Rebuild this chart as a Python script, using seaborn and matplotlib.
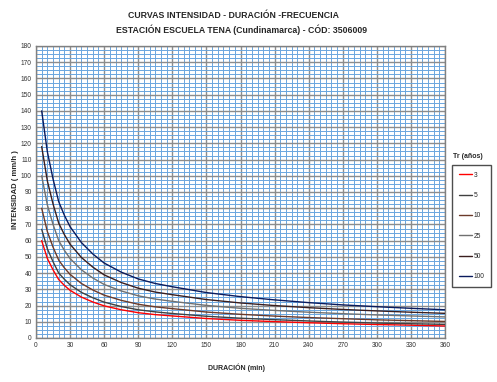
import numpy as np
import pandas as pd
import matplotlib
matplotlib.use("Agg")
import matplotlib.pyplot as plt
import seaborn as sns
from matplotlib.ticker import MultipleLocator

durations = [5, 10, 15, 20, 25, 30, 40, 50, 60, 75, 90, 105, 120, 150, 180, 210, 240, 270, 300, 330, 360]
tr_3 = [60, 49, 42, 36, 32.4, 29.4, 25.2, 22.2, 19.8, 17.4, 15.6, 14.4, 13.6, 12.0, 10.9, 10.1, 9.4, 8.8, 8.3, 7.9, 7.4]
tr_5 = [67, 55, 47, 40, 36.2, 32.8, 28.1, 24.8, 22.1, 19.4, 17.4, 16.1, 15.1, 13.4, 12.2, 11.3, 10.5, 9.8, 9.2, 8.8, 8.4]
tr_10 = [80, 65.6, 56, 48, 43.2, 39.2, 33.6, 29.6, 26.4, 23.2, 20.8, 19.2, 18.1, 16.0, 14.6, 13.5, 12.6, 11.9, 11.2, 10.7, 10.2]
tr_25 = [100, 82, 70, 60, 54, 49, 42, 37, 33, 29, 26, 24, 22.6, 20.1, 18.3, 17.0, 15.9, 15.0, 14.2, 13.6, 13.0]
tr_50 = [118, 96.8, 82.6, 70.8, 63.7, 57.8, 49.6, 43.7, 38.9, 34.2, 30.7, 28.3, 26.7, 23.7, 21.6, 20.0, 18.7, 17.6, 16.7, 15.9, 15.2]
tr_100 = [140, 114.8, 98, 84, 75.6, 68.6, 58.8, 51.8, 46.2, 40.6, 36.4, 33.6, 31.6, 28, 25.5, 23.5, 21.8, 20.4, 19.3, 18.3, 17.4]
series_names = ["3", "5", "10", "25", "50", "100"]
series_values = [tr_3, tr_5, tr_10, tr_25, tr_50, tr_100]
colors = ["#FF0000", "#404040", "#6B3A2A", "#707070", "#3A1E1E", "#0A1A5C"]

rows = []
for name, vals in zip(series_names, series_values):
    for d, v in zip(durations, vals):
        rows.append({"Duracion": d, "Intensidad": v, "Tr": name})
df = pd.DataFrame(rows)

sns.set_style("white")
plt.rcParams["font.family"] = ["Liberation Sans", "DejaVu Sans"]

fig = plt.figure(figsize=(4.97, 3.82), dpi=100)
ax = fig.add_axes([36/497, 1-338/382, (445-36)/497, (338-46)/382])

ax.set_xlim(0, 360)
ax.set_ylim(0, 180)
ax.xaxis.set_major_locator(MultipleLocator(30))
ax.xaxis.set_minor_locator(MultipleLocator(5))
ax.yaxis.set_major_locator(MultipleLocator(10))
ax.yaxis.set_minor_locator(MultipleLocator(2.5))
ax.grid(which="minor", color="#6AA6DE", linewidth=0.7, zorder=0)
ax.grid(which="major", color="#8C8C8C", linewidth=1.0, zorder=1)
ax.set_axisbelow(True)

sns.lineplot(data=df, x="Duracion", y="Intensidad", hue="Tr", hue_order=series_names,
             palette=colors, linewidth=1.0, ax=ax, legend=True, zorder=3)

for s in ax.spines.values():
    s.set_color("#808080")
    s.set_linewidth(1.0)
ax.tick_params(axis="both", which="major", labelsize=4.8, length=0, pad=3, labelcolor="#333333")
ax.tick_params(which="minor", length=0)

ax.set_xlabel("DURACIÓN (min)", fontsize=5, fontweight="bold")
ax.xaxis.set_label_coords((237-36)/409, -(363-338)/292)
ax.set_ylabel("INTENSIDAD ( mm/h )", fontsize=5.5, fontweight="bold")
ax.yaxis.set_label_coords(-(36-19)/409, (338-190)/292)

fig.text(234/497, 1-16/382, "CURVAS INTENSIDAD - DURACIÓN -FRECUENCIA", ha="center", va="center",
         fontsize=6.3, fontweight="bold")
fig.text(242/497, 1-30/382, "ESTACIÓN ESCUELA TENA (Cundinamarca) - CÓD: 3506009", ha="center", va="center",
         fontsize=6.3, fontweight="bold")

handles, labels = ax.get_legend_handles_labels()
ax.get_legend().remove()
leg = fig.legend(handles, labels, loc="upper left", bbox_to_anchor=(452/497, 1-165/382),
                 fontsize=4.8, frameon=True, fancybox=False, handlelength=2.0, handletextpad=0.2,
                 labelspacing=2.0, borderpad=1.0, borderaxespad=0)
leg.get_frame().set_edgecolor("#222222")
leg.get_frame().set_linewidth(1.0)
fig.text(453/497, 1-157/382, "Tr (años)", ha="left", va="center", fontsize=5, fontweight="bold")

fig.savefig("out.png", dpi=100)
